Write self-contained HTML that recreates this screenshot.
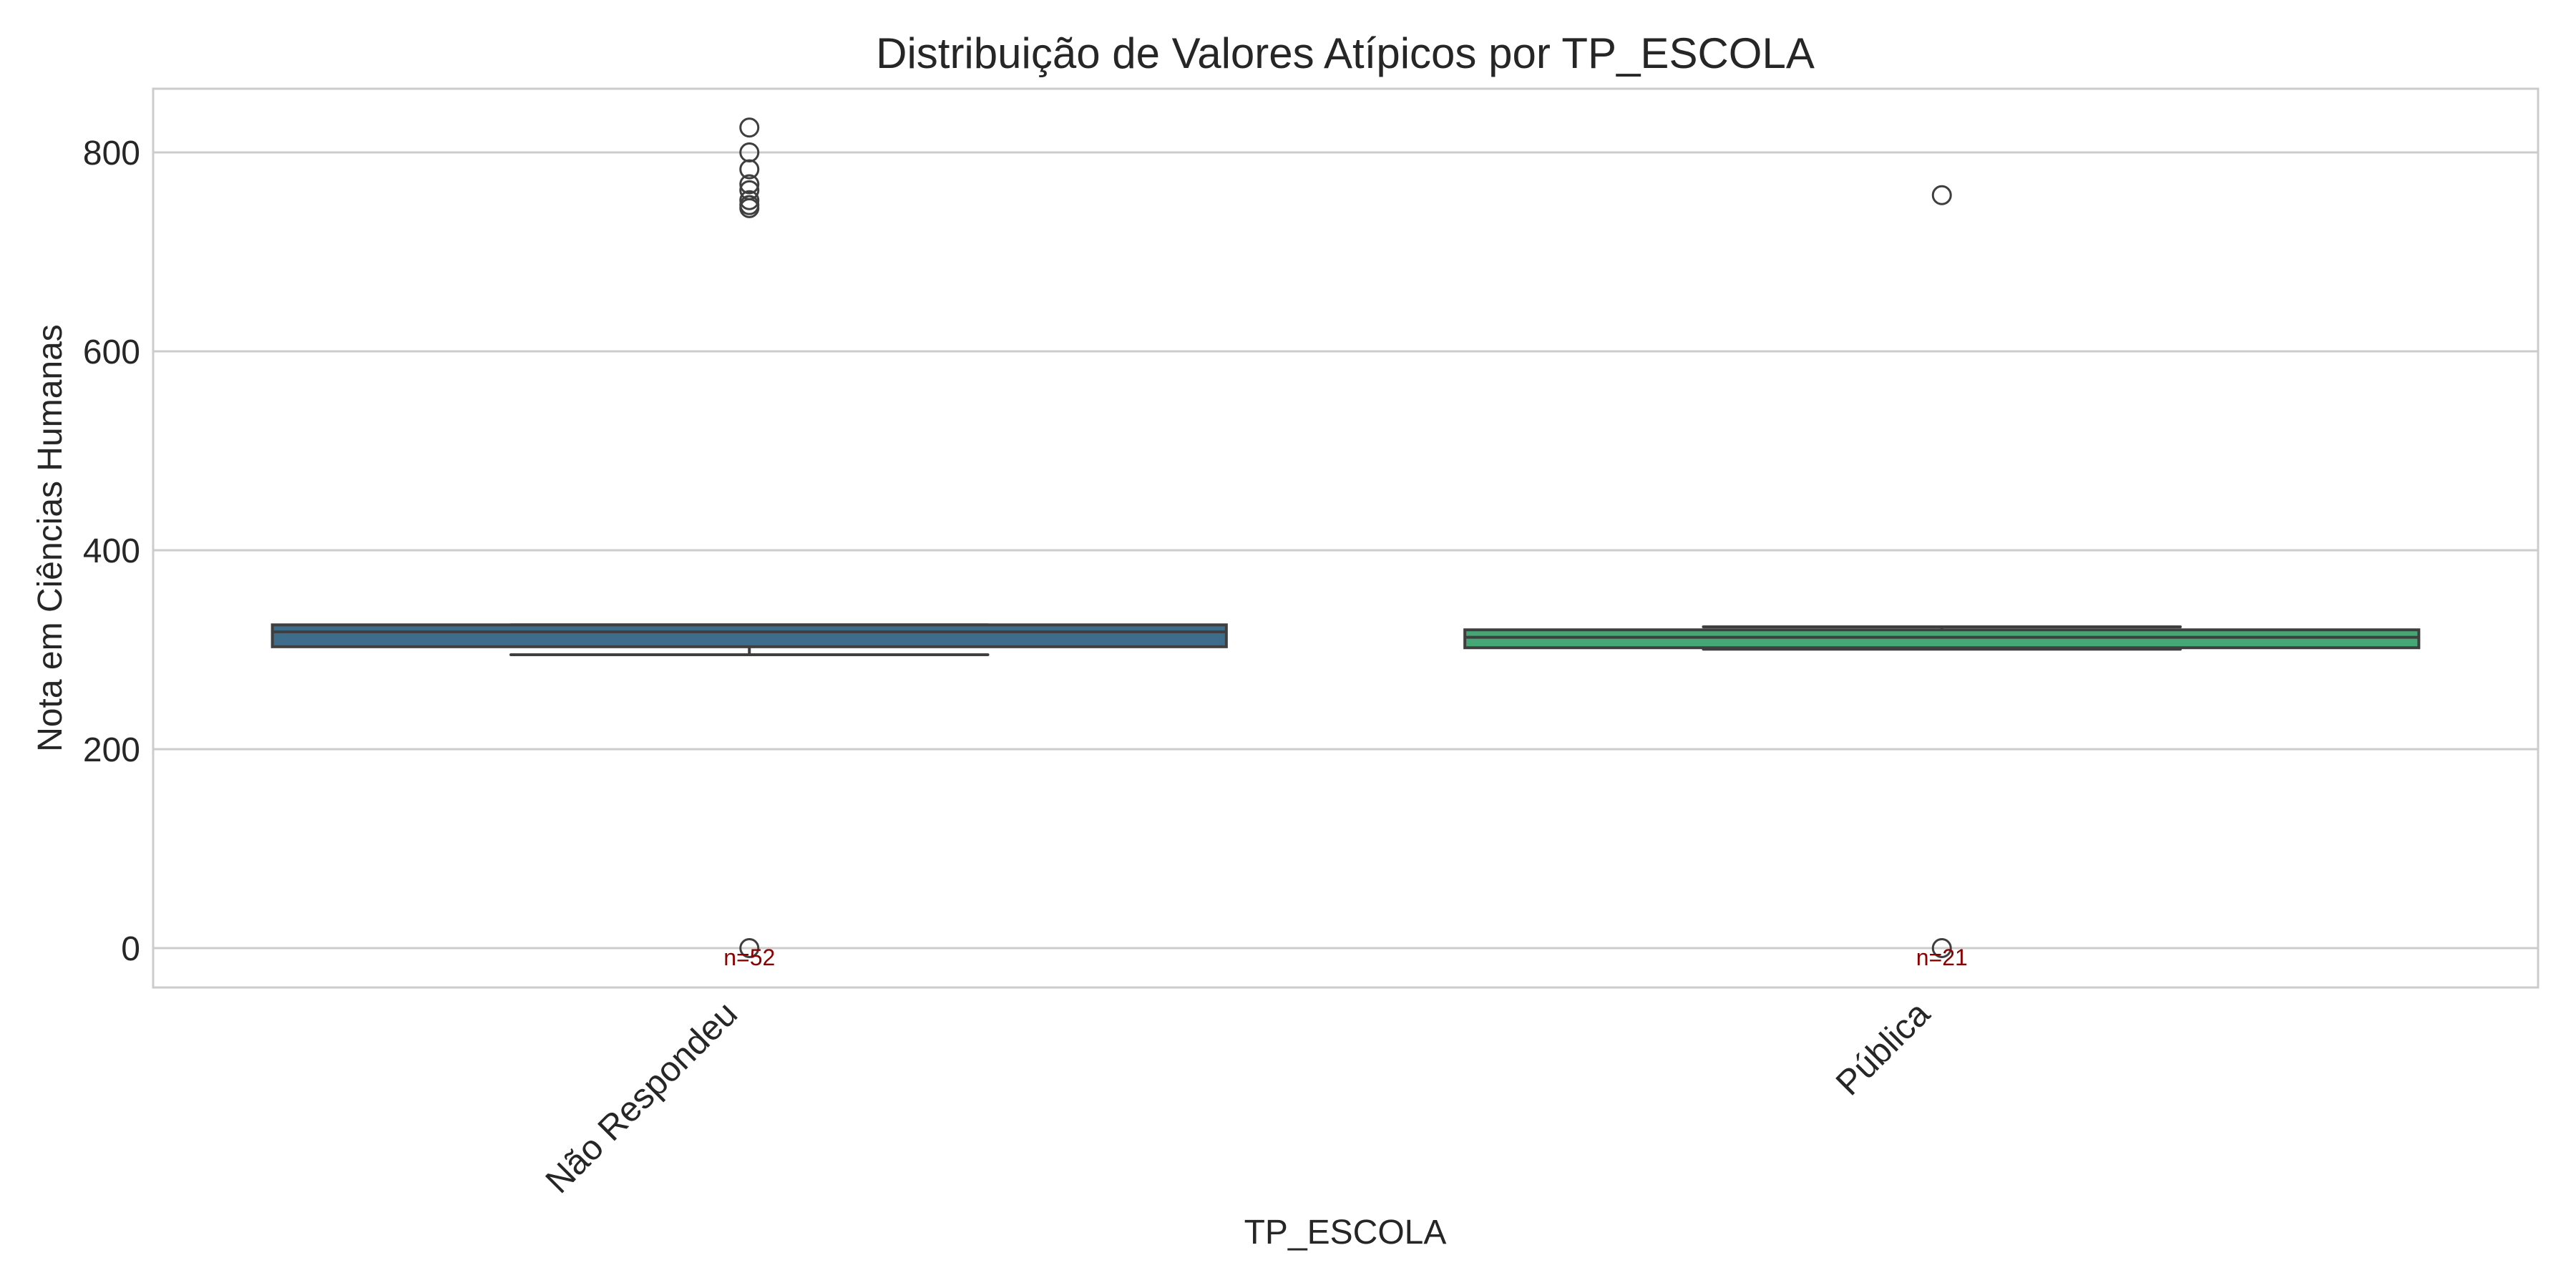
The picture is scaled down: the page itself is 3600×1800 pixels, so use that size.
<!DOCTYPE html>
<html><head><meta charset="utf-8"><style>html,body{margin:0;padding:0;background:#fff}svg{display:block}text{font-family:"Liberation Sans",Arial,sans-serif}</style></head>
<body>
<svg id="chart" width="3600" height="1800" viewBox="0 0 3600 1800" xmlns="http://www.w3.org/2000/svg">
<rect width="3600" height="1800" fill="#fff"/>
<text x="1880" y="95" font-size="60" text-anchor="middle" fill="#262626">Distribuição de Valores Atípicos por TP_ESCOLA</text>
<g id="grid"></g>
<g id="yticks"></g>
<g id="boxes"></g>
<g id="xticks"></g>
<rect x="214" y="124" width="3333" height="1256" fill="none" stroke="#cccccc" stroke-width="3"/>
<text transform="translate(86,752) rotate(-90)" font-size="48" text-anchor="middle" fill="#262626">Nota em Ciências Humanas</text>
<text x="1880" y="1738" font-size="48" text-anchor="middle" fill="#262626">TP_ESCOLA</text>
</svg>
<script>
const categories = ["Não Respondeu", "Pública"];
const q1 = [303, 302];
const medians = [318, 312.5];
const q3 = [325, 320];
const whiskerLow = [295, 300.5];
const whiskerHigh = [325, 323];
const outliers0 = [825, 800, 783, 768, 762, 752, 747, 744, 0];
const outliers1 = [757, 0];
const counts = ["n=52", "n=21"];
const yTicks = [0, 200, 400, 600, 800];
const colors = ["#3e6c8b", "#45a776"];

const NS = "http://www.w3.org/2000/svg";
const L = 214, R = 3547, T = 124, B = 1380;
function y(v){ return 1325 - v * 1.39; }
function x(i){ return L + (i + 0.5) * (R - L) / categories.length; }
const band = (R - L) / categories.length;
function mk(tag, attrs, parent){ const e = document.createElementNS(NS, tag); for (const k in attrs) e.setAttribute(k, attrs[k]); parent.appendChild(e); return e; }

const grid = document.getElementById('grid');
const yt = document.getElementById('yticks');
yTicks.forEach(v => {
  const l = mk('line', {x1: L, x2: R, y1: y(v), y2: y(v), stroke: '#cccccc', 'stroke-width': 3}, grid);
  
  
  const t = mk('text', {x: 196, y: y(v) + 17, 'font-size': 48, 'text-anchor': 'end', fill: '#262626'}, yt);
  t.textContent = v;
  
  
});

const boxes = document.getElementById('boxes');
const xt = document.getElementById('xticks');
const allOut = [outliers0, outliers1];
categories.forEach((c, i) => {
  const cx = x(i), w = band * 0.8, cw = w / 2;
  const g = mk('g', {}, boxes);
  
  
  const edge = '#3f3f3f';
  const w1 = mk('line', {x1: cx, x2: cx, y1: y(q1[i]), y2: y(whiskerLow[i]), stroke: edge, 'stroke-width': 4}, g);
  
  
  const w2 = mk('line', {x1: cx, x2: cx, y1: y(q3[i]), y2: y(whiskerHigh[i]), stroke: edge, 'stroke-width': 4}, g);
  
  
  const c1 = mk('line', {x1: cx - cw/2, x2: cx + cw/2, y1: y(whiskerLow[i]), y2: y(whiskerLow[i]), stroke: edge, 'stroke-width': 4, 'stroke-linecap': 'round'}, g);
  
  
  const c2 = mk('line', {x1: cx - cw/2, x2: cx + cw/2, y1: y(whiskerHigh[i]), y2: y(whiskerHigh[i]), stroke: edge, 'stroke-width': 4, 'stroke-linecap': 'round'}, g);
  
  
  const r = mk('rect', {x: cx - w/2, y: y(q3[i]), width: w, height: y(q1[i]) - y(q3[i]), fill: colors[i], stroke: edge, 'stroke-width': 4}, g);
  
  
  const m = mk('line', {x1: cx - w/2, x2: cx + w/2, y1: y(medians[i]), y2: y(medians[i]), stroke: edge, 'stroke-width': 4}, g);
  
  
  allOut[i].forEach(v => {
    const o = mk('circle', {cx: cx, cy: y(v), r: 12.5, fill: 'none', stroke: edge, 'stroke-width': 3}, g);
    
    
  });
  const n = mk('text', {x: cx, y: y(0) + 24, 'font-size': 32, 'text-anchor': 'middle', fill: '#8b0000'}, g);
  n.textContent = counts[i];
  
  
  const t = mk('text', {transform: 'translate(' + (cx - 14) + ',1420) rotate(-45)', 'font-size': 49, 'text-anchor': 'end', fill: '#262626'}, xt);
  t.textContent = c;
  
  
});
</script>
</body></html>
